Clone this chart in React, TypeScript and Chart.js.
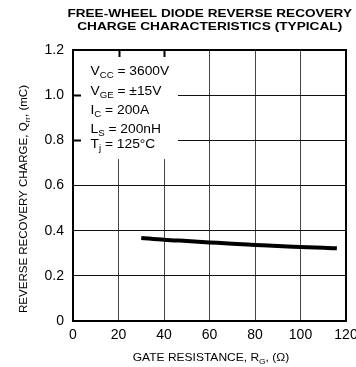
import React, { useEffect, useRef } from "react";
import { Chart, registerables } from "chart.js";

Chart.register(...registerables);

// ---- data ----
const gateResistance = [30, 40, 50, 60, 70, 80, 90, 100, 110, 116];
const recoveryCharge = [0.368, 0.36, 0.354, 0.348, 0.342, 0.337, 0.332, 0.328, 0.324, 0.322];
const xTickValues = [0, 20, 40, 60, 80, 100, 120];
const yTickValues = [0, 0.2, 0.4, 0.6, 0.8, 1.0, 1.2];
const titleLines = ["FREE-WHEEL DIODE REVERSE RECOVERY", "CHARGE CHARACTERISTICS (TYPICAL)"];

type Seg = { t: string; sub?: boolean };
const conditionLines: Seg[][] = [
  [{ t: "V" }, { t: "CC", sub: true }, { t: " = 3600V" }],
  [{ t: "V" }, { t: "GE", sub: true }, { t: " = \u00B115V" }],
  [{ t: "I" }, { t: "C", sub: true }, { t: " = 200A" }],
  [{ t: "L" }, { t: "S", sub: true }, { t: " = 200nH" }],
  [{ t: "T" }, { t: "j", sub: true }, { t: " = 125\u00B0C" }],
];
const xAxisTitle: Seg[] = [{ t: "GATE RESISTANCE, R" }, { t: "G", sub: true }, { t: ", (\u03A9)" }];
const yAxisTitle: Seg[] = [{ t: "REVERSE RECOVERY CHARGE, Q" }, { t: "rr", sub: true }, { t: ", (mC)" }];

const FAMILY = '"Liberation Sans", Arial, Helvetica, sans-serif';

function fontFor(size: number, bold: boolean, sub?: boolean) {
  return `${bold ? "bold " : ""}${sub ? Math.round(size * 0.7 * 10) / 10 : size}px ${FAMILY}`;
}

function measureSegs(ctx: CanvasRenderingContext2D, segs: Seg[], size: number, bold: boolean) {
  let w = 0;
  for (const s of segs) {
    ctx.font = fontFor(size, bold, s.sub);
    w += ctx.measureText(s.t).width;
  }
  return w;
}

// draws rich text with baseline at local (0,0); align left or center; horizontal scale sx
function drawSegs(
  ctx: CanvasRenderingContext2D,
  segs: Seg[],
  size: number,
  bold: boolean,
  align: "left" | "center",
  opts: { sx?: number; target?: number }
) {
  const w = measureSegs(ctx, segs, size, bold);
  const sx = opts.target ? opts.target / w : opts.sx ?? 1;
  ctx.save();
  ctx.scale(sx, 1);
  let cx = align === "center" ? -w / 2 : 0;
  ctx.textAlign = "left";
  ctx.textBaseline = "alphabetic";
  ctx.fillStyle = "#000";
  for (const s of segs) {
    ctx.font = fontFor(size, bold, s.sub);
    ctx.fillText(s.t, cx, s.sub ? size * 0.28 : 0);
    cx += ctx.measureText(s.t).width;
  }
  ctx.restore();
}

const maskPlugin = {
  id: "maskPlugin",
  beforeDatasetsDraw(chart: any) {
    const ctx: CanvasRenderingContext2D = chart.ctx;
    const { left, top } = chart.chartArea;
    const xs = chart.scales.x;
    const ys = chart.scales.y;
    ctx.save();
    ctx.fillStyle = "#fff";
    ctx.fillRect(left + 1, top + 1, 178 - left - 1, 159 - top - 1);
    ctx.strokeStyle = "#000";
    ctx.lineWidth = 2;
    ctx.beginPath();
    for (const v of [20, 40]) {
      const x = Math.round(xs.getPixelForValue(v)) + 0.5;
      ctx.moveTo(x, top);
      ctx.lineTo(x, top + 7);
    }
    for (const v of [1.0, 0.8]) {
      const y = Math.round(ys.getPixelForValue(v)) + 0.5;
      ctx.moveTo(left, y);
      ctx.lineTo(left + 8, y);
    }
    ctx.stroke();
    ctx.restore();
  },
  afterDraw(chart: any) {
    const ctx: CanvasRenderingContext2D = chart.ctx;
    const { left, top, right, bottom } = chart.chartArea;
    ctx.save();
    ctx.strokeStyle = "#000";
    ctx.lineWidth = 2;
    ctx.strokeRect(left, top, right - left, bottom - top);

    // conditions
    const baselines = [75, 94.5, 114, 133, 147.5];
    conditionLines.forEach((segs, i) => {
      ctx.save();
      ctx.translate(90.5, baselines[i]);
      drawSegs(ctx, segs, 12, false, "left", { sx: 1.15 });
      ctx.restore();
    });

    // title
    ctx.save();
    ctx.translate(209.7, 17.3);
    drawSegs(ctx, [{ t: titleLines[0] }], 11.5, true, "center", { target: 284.5 });
    ctx.restore();
    ctx.save();
    ctx.translate(209.7, 29.5);
    drawSegs(ctx, [{ t: titleLines[1] }], 11.5, true, "center", { target: 265 });
    ctx.restore();

    // x title
    ctx.save();
    ctx.translate(211, 360.7);
    drawSegs(ctx, xAxisTitle, 11, false, "center", { target: 156.5 });
    ctx.restore();

    // y title
    ctx.save();
    ctx.translate(26.5, 199);
    ctx.rotate(-Math.PI / 2);
    drawSegs(ctx, yAxisTitle, 11, false, "center", { target: 228 });
    ctx.restore();

    ctx.restore();
  },
};

export default function App() {
  const canvasRef = useRef<HTMLCanvasElement | null>(null);

  useEffect(() => {
    const canvas = canvasRef.current;
    if (!canvas) return;
    const chart = new Chart(canvas, {
      type: "line",
      data: {
        datasets: [
          {
            data: gateResistance.map((x, i) => ({ x, y: recoveryCharge[i] })),
            borderColor: "#000",
            borderWidth: 4,
            pointRadius: 0,
            cubicInterpolationMode: "monotone",
            fill: false,
          },
        ],
      },
      options: {
        responsive: false,
        animation: false,
        layout: { padding: { left: 0, right: 10, top: 50, bottom: 0 } },
        plugins: {
          legend: { display: false },
          tooltip: { enabled: false },
          title: { display: false },
        },
        scales: {
          x: {
            type: "linear",
            min: 0,
            max: 120,
            afterBuildTicks: (s: any) => {
              s.ticks = xTickValues.map((v) => ({ value: v }));
            },
            afterFit: (s: any) => {
              s.height = 46;
              s.paddingLeft = 0;
              s.paddingRight = 0;
            },
            grid: { color: "#444", lineWidth: 1, drawTicks: false },
            border: { display: false },
            ticks: {
              color: "#000",
              font: { family: FAMILY, size: 14 },
              padding: 6,
              maxRotation: 0,
              autoSkip: false,
              callback: (v: any) => String(v),
            },
          },
          y: {
            type: "linear",
            min: 0,
            max: 1.2,
            afterBuildTicks: (s: any) => {
              s.ticks = yTickValues.map((v) => ({ value: v }));
            },
            afterFit: (s: any) => {
              s.width = 73;
              s.paddingTop = 0;
              s.paddingBottom = 0;
            },
            grid: { color: "#111", lineWidth: 1, drawTicks: false },
            border: { display: false },
            ticks: {
              color: "#000",
              font: { family: FAMILY, size: 14 },
              padding: 9,
              autoSkip: false,
              callback: (v: any) => (Number(v) === 0 ? "0" : Number(v).toFixed(1)),
            },
          },
        },
      },
      plugins: [maskPlugin],
    } as any);
    return () => chart.destroy();
  }, []);

  return (
    <div style={{ position: "absolute", left: 0, top: 0, width: 356, height: 367, background: "#fff" }}>
      <canvas ref={canvasRef} width={356} height={367} style={{ display: "block" }} />
    </div>
  );
}
